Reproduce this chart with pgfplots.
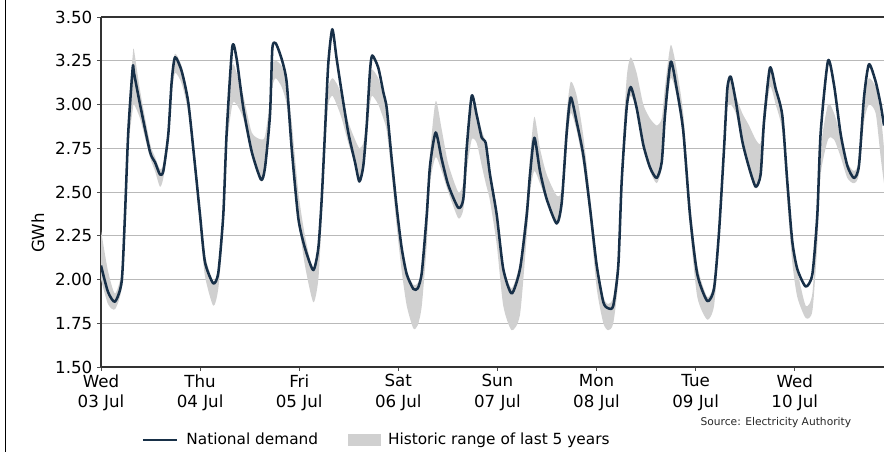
\documentclass[border=0pt]{standalone}
\usepackage{fontspec}
\setmainfont{DejaVu Sans}
\usepackage{pgfplots}
\usepackage{pgfplotstable}
\pgfplotsset{compat=1.18}
\usepgfplotslibrary{fillbetween}

\definecolor{demand}{RGB}{24,48,72}
\definecolor{band}{RGB}{208,208,208}
\definecolor{gridc}{RGB}{185,185,185}

\pgfplotsset{
  lineleg/.style={legend image code/.code={\draw[demand, line width=1.5pt] (0pt,0pt) -- (26pt,0pt);}},
  bandleg/.style={legend image code/.code={\fill[band] (0pt,-4.2pt) rectangle (24pt,4.2pt);}},
}

% x = days since Wed 03 Jul 00:00, v = national demand, lo/hi = historic range
\pgfplotstableread{
x v lo hi
0.000 2.08 2.00 2.28
0.070 1.93 1.86 2.05
0.141 1.873 1.83 1.92
0.209 1.99 1.95 2.05
0.242 2.37 2.30 2.45
0.275 2.84 2.75 2.95
0.320 3.21 2.97 3.28
0.333 3.18 3.00 3.31
0.394 3.00 2.92 3.08
0.494 2.73 2.70 2.78
0.545 2.67 2.62 2.70
0.595 2.60 2.53 2.63
0.629 2.62 2.58 2.66
0.679 2.83 2.78 2.87
0.713 3.13 3.05 3.17
0.747 3.27 3.18 3.29
0.814 3.19 3.12 3.22
0.881 3.01 2.95 3.04
0.949 2.65 2.60 2.70
0.999 2.37 2.30 2.40
1.049 2.10 2.02 2.14
1.133 1.978 1.85 1.99
1.184 2.04 1.95 2.06
1.234 2.37 2.30 2.40
1.268 2.84 2.75 2.88
1.325 3.33 3.00 3.22
1.369 3.26 3.00 3.18
1.436 2.98 2.92 3.05
1.521 2.73 2.72 2.84
1.615 2.57 2.56 2.80
1.655 2.64 2.62 2.82
1.705 2.94 2.92 3.02
1.729 3.32 3.10 3.22
1.763 3.35 3.15 3.25
1.823 3.26 3.10 3.22
1.873 3.13 3.00 3.12
1.924 2.75 2.75 2.90
1.991 2.35 2.35 2.50
2.058 2.18 2.08 2.25
2.142 2.054 1.87 2.05
2.193 2.18 2.00 2.18
2.227 2.46 2.35 2.50
2.260 2.84 2.75 2.90
2.293 3.23 3.00 3.10
2.334 3.43 3.05 3.15
2.378 3.26 3.00 3.12
2.429 3.07 2.92 3.05
2.495 2.84 2.78 2.90
2.563 2.67 2.66 2.80
2.607 2.56 2.56 2.75
2.647 2.65 2.62 2.78
2.681 2.88 2.80 2.92
2.714 3.19 3.00 3.15
2.737 3.28 3.05 3.20
2.798 3.21 3.00 3.15
2.849 3.07 2.92 3.05
2.883 2.98 2.85 2.97
2.933 2.69 2.60 2.72
2.984 2.41 2.30 2.45
3.034 2.18 2.05 2.20
3.085 2.03 1.85 2.05
3.152 1.946 1.72 1.97
3.197 1.95 1.74 1.98
3.237 2.04 1.85 2.06
3.287 2.37 2.20 2.40
3.320 2.65 2.55 2.72
3.377 2.84 2.70 3.02
3.437 2.69 2.62 2.86
3.504 2.54 2.50 2.66
3.605 2.41 2.35 2.50
3.656 2.46 2.40 2.55
3.690 2.75 2.62 2.78
3.741 3.05 2.80 3.00
3.791 2.94 2.78 2.95
3.842 2.81 2.65 2.85
3.882 2.78 2.55 2.78
3.925 2.60 2.45 2.62
3.993 2.37 2.20 2.40
4.059 2.06 1.85 2.08
4.144 1.92 1.71 1.95
4.228 2.06 1.80 2.10
4.296 2.37 2.25 2.45
4.329 2.60 2.50 2.70
4.373 2.81 2.62 2.93
4.429 2.62 2.55 2.75
4.497 2.46 2.45 2.60
4.598 2.32 2.32 2.48
4.649 2.44 2.40 2.52
4.699 2.84 2.75 2.95
4.740 3.04 2.95 3.13
4.800 2.90 2.85 3.05
4.867 2.71 2.65 2.82
4.934 2.41 2.35 2.48
5.002 2.08 1.95 2.12
5.069 1.87 1.75 1.90
5.119 1.835 1.71 1.86
5.169 1.85 1.75 1.90
5.220 2.08 2.00 2.15
5.254 2.56 2.50 2.65
5.304 2.98 2.95 3.15
5.345 3.10 3.05 3.27
5.405 2.98 2.97 3.18
5.472 2.77 2.76 3.00
5.540 2.64 2.62 2.92
5.607 2.58 2.55 2.88
5.658 2.67 2.64 2.92
5.691 2.94 2.92 3.10
5.749 3.245 3.15 3.34
5.809 3.09 3.05 3.20
5.875 2.85 2.80 2.95
5.943 2.37 2.30 2.45
6.017 2.03 1.90 2.08
6.118 1.877 1.77 1.90
6.186 1.95 1.85 1.98
6.236 2.27 2.20 2.30
6.287 2.75 2.70 2.78
6.320 3.09 2.98 3.10
6.354 3.16 3.00 3.15
6.405 3.02 2.95 3.05
6.471 2.79 2.78 2.95
6.539 2.64 2.62 2.88
6.606 2.53 2.52 2.80
6.656 2.60 2.58 2.78
6.690 2.90 2.85 2.98
6.750 3.21 3.10 3.20
6.808 3.09 3.00 3.10
6.874 2.94 2.85 2.95
6.925 2.56 2.45 2.58
6.975 2.22 2.10 2.22
7.026 2.06 1.90 2.05
7.111 1.96 1.78 1.85
7.178 2.03 1.82 1.92
7.228 2.37 2.20 2.35
7.262 2.84 2.60 2.75
7.336 3.25 2.80 3.00
7.397 3.11 2.80 2.95
7.464 2.83 2.70 2.82
7.531 2.65 2.58 2.67
7.598 2.58 2.55 2.62
7.648 2.65 2.60 2.68
7.699 3.04 2.90 3.05
7.749 3.23 3.00 3.15
7.817 3.13 2.95 3.10
7.867 3.00 2.70 2.95
7.901 2.88 2.55 2.75
}\demand

\begin{document}
\begin{tikzpicture}
\draw[black, line width=1.2pt] (4pt,0) -- (4pt,339pt);
\begin{axis}[
  at={(75.75pt,63.75pt)}, anchor=south west,
  scale only axis, width=587.25pt, height=262.5pt,
  xmin=0, xmax=7.901, ymin=1.5, ymax=3.5,
  axis x line=box, axis y line=left,
  axis line style={-, black!80, line width=0.8pt},
  tick align=outside, tick pos=left,
  major tick length=3pt,
  tick style={black!70, line width=0.7pt},
  xtick={0,1,2,3,4,5,6,7},
  xticklabels={{Wed\\03 Jul},{Thu\\04 Jul},{Fri\\05 Jul},{Sat\\06 Jul},{Sun\\07 Jul},{Mon\\08 Jul},{Tue\\09 Jul},{Wed\\10 Jul}},
  xticklabel style={align=center, font=\fontsize{12.5}{15.5}\selectfont, yshift=1pt},
  ytick={1.5,1.75,...,3.5},
  yticklabel style={font=\fontsize{12.5}{15}\selectfont},
  /pgf/number format/.cd, fixed, fixed zerofill, precision=2, assume math mode=true,
  /pgfplots/.cd,
  ymajorgrids, grid style={gridc, line width=0.7pt},
  ylabel={GWh},
  ylabel style={at={(axis description cs:-0.0805,0.383)}, rotate=0, anchor=center, font=\fontsize{12.5}{15}\selectfont},
  clip mode=individual,
  legend columns=2,
  legend style={at={(0.3525,-0.209)}, anchor=center, draw=none, fill=none,
    font=\fontsize{11.5}{14}\selectfont,
    /tikz/every odd column/.append style={column sep=4pt},
    /tikz/every even column/.append style={column sep=20pt}},
]
\addplot[draw=none, smooth, tension=0.4, name path=hi, forget plot] table[x=x, y=hi] {\demand};
\addplot[draw=none, smooth, tension=0.4, name path=lo, forget plot] table[x=x, y=lo] {\demand};
\addplot[band, draw=none, forget plot] fill between[of=hi and lo];
\addplot[demand, line width=1.9pt, line join=round, smooth, tension=0.4, lineleg] table[x=x, y=v] {\demand};
\addlegendentry{National demand}
\addlegendimage{bandleg}
\addlegendentry{Historic range of last 5 years}
\node[anchor=east, font=\fontsize{8}{9.5}\selectfont, black!85] at (rel axis cs:0.964,-0.158) {Source: Electricity Authority};
\end{axis}
\pgfresetboundingbox
\useasboundingbox (0,0) rectangle (663pt,339pt);
\end{tikzpicture}
\end{document}
